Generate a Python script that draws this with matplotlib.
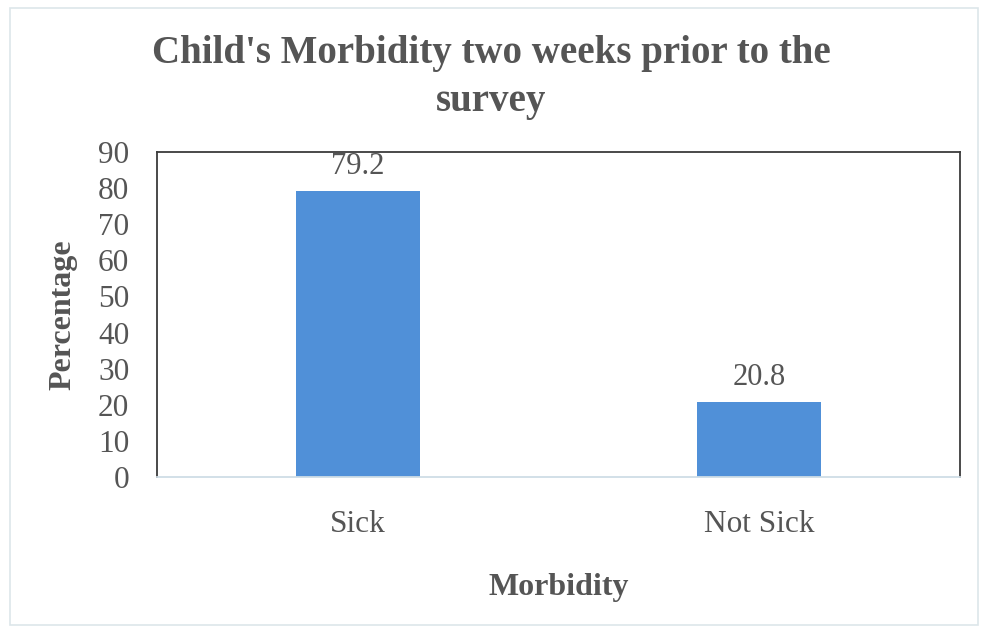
import matplotlib.pyplot as plt
from matplotlib.patches import Rectangle

categories = ['Sick', 'Not Sick']
percentages = [79.2, 20.8]
y_ticks = [0, 10, 20, 30, 40, 50, 60, 70, 80, 90]

plt.rcParams['font.family'] = ['Liberation Serif', 'DejaVu Serif']
text_color = '#555555'
bar_color = '#5090d8'

fig = plt.figure(figsize=(9.83, 6.28), dpi=100)
ax = fig.add_axes([0.1597, 0.2404, 0.8169, 0.5176])

x = range(len(categories))
bars = ax.bar(x, percentages, width=0.31, color=bar_color, zorder=2)

for rect, val in zip(bars, percentages):
    ax.annotate(f'{val:.1f}', (rect.get_x() + rect.get_width() / 2, val),
                xytext=(0, 7), textcoords='offset points',
                ha='center', va='bottom', fontsize=22, color=text_color)

ax.set_xlim(-0.5, 1.5)
ax.set_ylim(0, 90)
ax.set_yticks(y_ticks)
ax.set_xticks(list(x))
ax.set_xticklabels(categories)
ax.tick_params(axis='both', length=0, labelsize=22.5, colors=text_color)
ax.tick_params(axis='y', pad=20)
ax.tick_params(axis='x', pad=24)

for side in ['left', 'top', 'right']:
    ax.spines[side].set_color('#3c3c3c')
    ax.spines[side].set_linewidth(1.3)
ax.spines['bottom'].set_color('#cfdde6')
ax.spines['bottom'].set_linewidth(1.3)

ax.set_ylabel('Percentage', fontsize=23, fontweight='bold', color=text_color, labelpad=15)
ax.set_xlabel('Morbidity', fontsize=23, fontweight='bold', color=text_color, labelpad=24)

fig.text(0.5, 0.877, "Child's Morbidity two weeks prior to the\nsurvey",
         ha='center', va='center', fontsize=28, fontweight='bold',
         color=text_color, linespacing=1.38)

# faint page frame
fig.add_artist(Rectangle((0.01, 0.005), 0.985, 0.982, transform=fig.transFigure,
                         fill=False, edgecolor='#dde6ea', linewidth=1.2))

fig.savefig('out.png', dpi=100)
